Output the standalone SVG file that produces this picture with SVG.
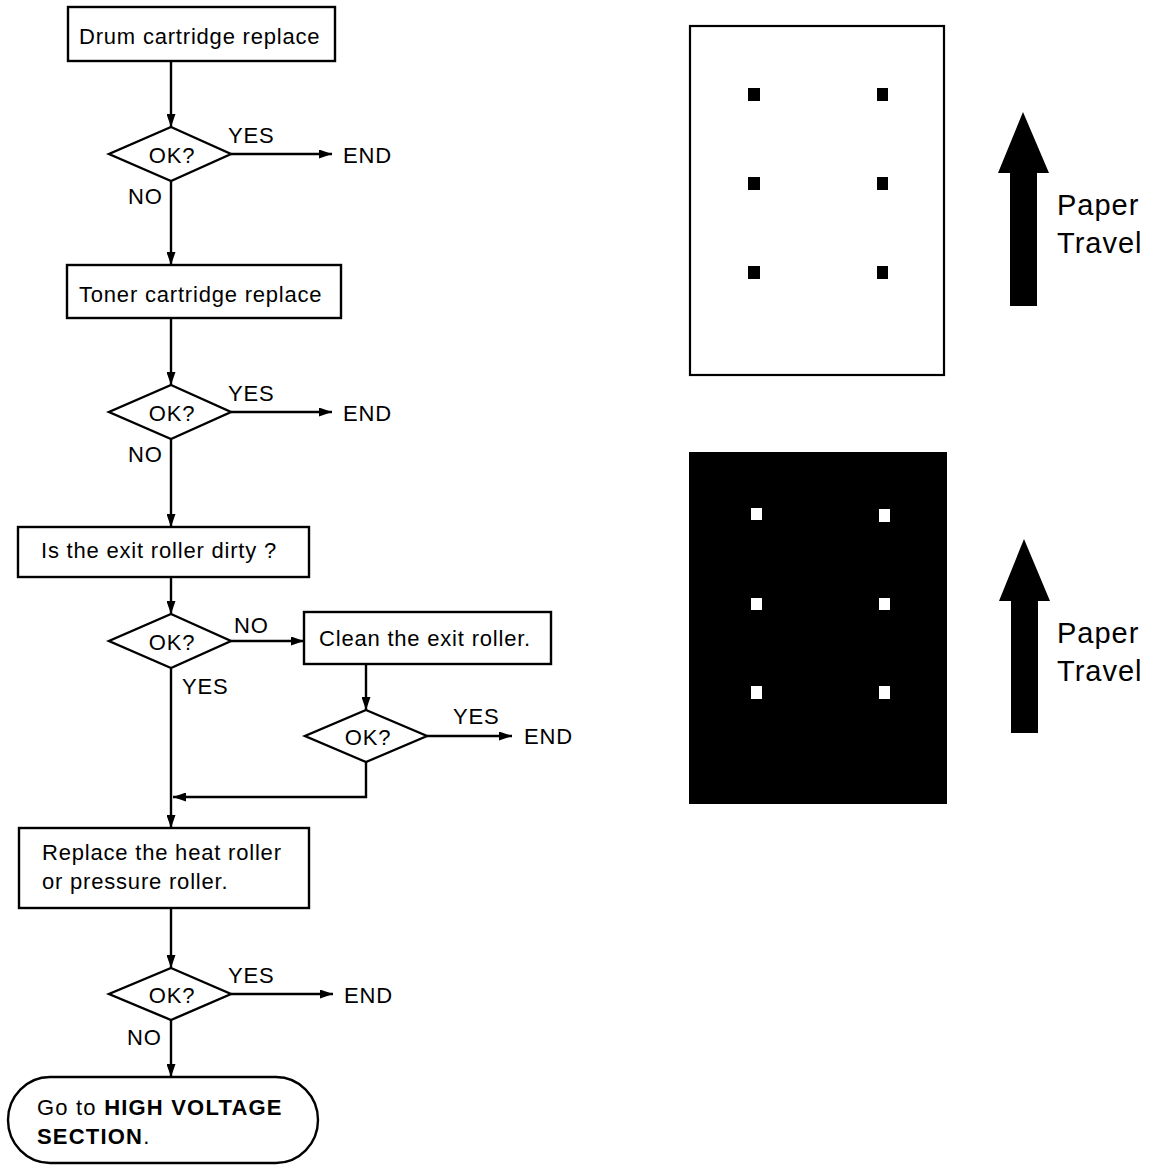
<svg xmlns="http://www.w3.org/2000/svg" width="1153" height="1165" viewBox="0 0 1153 1165">
<style>
.box{fill:#fff;stroke:#000;stroke-width:2.4}
.ln{fill:none;stroke:#000;stroke-width:2.4}
.t{font-family:"Liberation Sans",Arial,sans-serif;font-size:22px;letter-spacing:0.8px;fill:#000}
.tc{text-anchor:middle}
.b{font-weight:bold}
.w{letter-spacing:1.2px}
.pt{font-family:"Liberation Sans",Arial,sans-serif;font-size:29px;letter-spacing:1px;fill:#000}
</style>
<defs>
<marker id="ah" viewBox="0 0 13 9" refX="13" refY="4.5" markerWidth="13" markerHeight="9" markerUnits="userSpaceOnUse" orient="auto">
<path d="M0,0 L13,4.5 L0,9 Z" fill="#000"/>
</marker>
</defs>
<rect width="1153" height="1165" fill="#fff"/>

<g id="connectors">
<line class="ln" x1="171" y1="61" x2="171" y2="127" marker-end="url(#ah)"/>
<line class="ln" x1="231" y1="154" x2="332" y2="154" marker-end="url(#ah)"/>
<line class="ln" x1="171" y1="181" x2="171" y2="265" marker-end="url(#ah)"/>
<line class="ln" x1="171" y1="318" x2="171" y2="385" marker-end="url(#ah)"/>
<line class="ln" x1="231" y1="412" x2="332" y2="412" marker-end="url(#ah)"/>
<line class="ln" x1="171" y1="439" x2="171" y2="527" marker-end="url(#ah)"/>
<line class="ln" x1="171" y1="577" x2="171" y2="614" marker-end="url(#ah)"/>
<line class="ln" x1="231" y1="641" x2="304" y2="641" marker-end="url(#ah)"/>
<line class="ln" x1="366" y1="664" x2="366" y2="710" marker-end="url(#ah)"/>
<line class="ln" x1="427" y1="736" x2="512" y2="736" marker-end="url(#ah)"/>
<polyline class="ln" points="366,762 366,797 173,797" marker-end="url(#ah)"/>
<line class="ln" x1="171" y1="669" x2="171" y2="828" marker-end="url(#ah)"/>
<line class="ln" x1="171" y1="908" x2="171" y2="968" marker-end="url(#ah)"/>
<line class="ln" x1="231" y1="994" x2="333" y2="994" marker-end="url(#ah)"/>
<line class="ln" x1="171" y1="1020" x2="171" y2="1077" marker-end="url(#ah)"/>
</g>

<g id="labels">
<text class="t" x="228" y="143">YES</text>
<text class="t" x="343" y="163">END</text>
<text class="t" x="128" y="204">NO</text>
<text class="t" x="228" y="401">YES</text>
<text class="t" x="343" y="421">END</text>
<text class="t" x="128" y="462">NO</text>
<text class="t" x="234" y="633">NO</text>
<text class="t" x="182" y="694">YES</text>
<text class="t" x="453" y="724">YES</text>
<text class="t" x="524" y="744">END</text>
<text class="t" x="228" y="983">YES</text>
<text class="t" x="344" y="1003">END</text>
<text class="t" x="127" y="1045">NO</text>
</g>

<g id="n1">
<rect class="box" x="68" y="7" width="267" height="54"/>
<text class="t" x="79" y="44">Drum cartridge replace</text>
</g>
<g id="d1">
<polygon class="box" points="171,127 231,154 171,181 109,154"/>
<text class="t tc" x="172" y="163">OK?</text>
</g>
<g id="n2">
<rect class="box" x="67" y="265" width="274" height="53"/>
<text class="t" x="79" y="302">Toner cartridge replace</text>
</g>
<g id="d2">
<polygon class="box" points="171,385 231,412 171,439 109,412"/>
<text class="t tc" x="172" y="421">OK?</text>
</g>
<g id="n3">
<rect class="box" x="18" y="527" width="291" height="50"/>
<text class="t" x="41" y="558">Is the exit roller dirty ?</text>
</g>
<g id="d3">
<polygon class="box" points="171,614 231,641 171,668 109,641"/>
<text class="t tc" x="172" y="650">OK?</text>
</g>
<g id="n4">
<rect class="box" x="304" y="612" width="247" height="52"/>
<text class="t" x="319" y="646">Clean the exit roller.</text>
</g>
<g id="d4">
<polygon class="box" points="366,710 427,736 366,762 305,736"/>
<text class="t tc" x="368" y="745">OK?</text>
</g>
<g id="n5">
<rect class="box" x="19" y="828" width="290" height="80"/>
<text class="t" x="42" y="860">Replace the heat roller</text>
<text class="t" x="42" y="889">or pressure roller.</text>
</g>
<g id="d5">
<polygon class="box" points="171,968 231,994 171,1020 109,994"/>
<text class="t tc" x="172" y="1003">OK?</text>
</g>
<g id="n6">
<path class="box" d="M50,1077 L276,1077 A42,43 0 0 1 276,1163 L50,1163 A42,43 0 0 1 50,1077 Z"/>
<text class="t w" x="37" y="1115">Go to <tspan class="b">HIGH VOLTAGE</tspan></text>
<text class="t w" x="37" y="1144"><tspan class="b">SECTION</tspan>.</text>
</g>

<g id="sheet1">
<rect x="690" y="26" width="254" height="349" fill="#fff" stroke="#000" stroke-width="2.2"/>
<rect x="748" y="88" width="12" height="13" fill="#000"/>
<rect x="877" y="88" width="11" height="13" fill="#000"/>
<rect x="748" y="177" width="12" height="13" fill="#000"/>
<rect x="877" y="177" width="11" height="13" fill="#000"/>
<rect x="748" y="266" width="12" height="13" fill="#000"/>
<rect x="877" y="266" width="11" height="13" fill="#000"/>
</g>
<g id="arrow1">
<polygon points="1023,112 1049,173 1037,173 1037,306 1010,306 1010,173 998,173" fill="#000"/>
<text class="pt" x="1057" y="215">Paper</text>
<text class="pt" x="1057" y="253">Travel</text>
</g>

<g id="sheet2">
<rect x="689" y="452" width="258" height="352" fill="#000"/>
<rect x="751" y="508" width="11" height="12" fill="#fff"/>
<rect x="879" y="509" width="11" height="13" fill="#fff"/>
<rect x="751" y="598" width="11" height="12" fill="#fff"/>
<rect x="879" y="598" width="11" height="12" fill="#fff"/>
<rect x="751" y="686" width="11" height="13" fill="#fff"/>
<rect x="879" y="686" width="11" height="13" fill="#fff"/>
</g>
<g id="arrow2">
<polygon points="1024,539 1050,601 1038,601 1038,733 1011,733 1011,601 999,601" fill="#000"/>
<text class="pt" x="1057" y="643">Paper</text>
<text class="pt" x="1057" y="681">Travel</text>
</g>
</svg>
